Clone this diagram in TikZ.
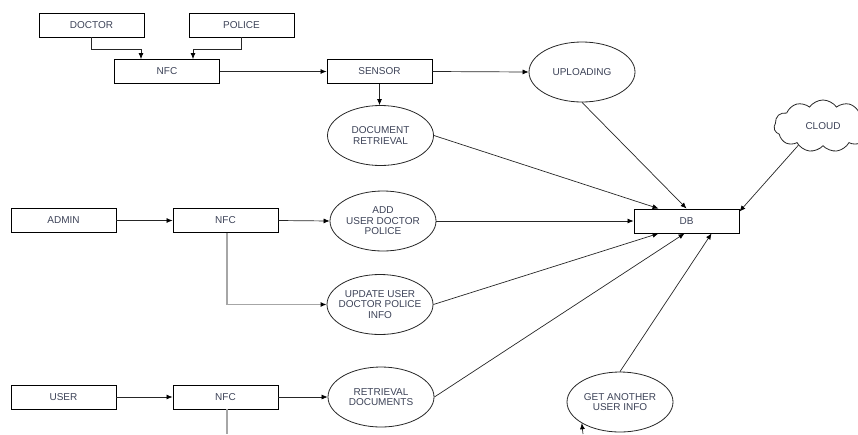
\documentclass[tikz,border=0pt]{standalone}
\usepackage{fontspec}
\setmainfont{Liberation Sans}
\usetikzlibrary{shapes.geometric,shapes.symbols,arrows.meta,calc}
\definecolor{txt}{HTML}{3C4257}
\tikzset{
  box/.style={draw=black,line width=0.9pt,minimum width=105pt,minimum height=24pt,inner sep=0pt,font=\fontsize{10}{10.5}\selectfont,text=txt},
  proc/.style={draw=black!85,line width=0.8pt,ellipse,minimum width=106pt,minimum height=60pt,inner xsep=-5pt,inner ysep=-2pt,align=center,font=\fontsize{10}{10.5}\selectfont,text=txt},
  arr/.style={draw=black!85,line width=0.7pt,-{Latex[length=6pt,width=5pt,black]}},
  garr/.style={draw=black!35,line width=1.1pt,-{Latex[length=6pt,width=5pt,black]}},
  gline/.style={draw=black!35,line width=1.1pt}
}
\begin{document}
\begin{tikzpicture}[x=1pt,y=-1pt]
\useasboundingbox (0,0) rectangle (858,434);
% top row
\node[box] (doctor) at (91.5,25) {DOCTOR};
\node[box] (police) at (241.5,25) {POLICE};
\node[box] (nfc1) at (167,71.5) {NFC};
\node[box] (sensor) at (379.5,71.5) {SENSOR};
\node[proc] (upl) at (582,72) {UPLOADING};
\node[proc] (docret) at (380.5,135.5) {DOCUMENT\\RETRIEVAL};
\node[cloud,cloud puffs=11,cloud puff arc=110,aspect=1.9,draw=black!85,line width=0.8pt,minimum width=98pt,minimum height=52pt,inner sep=0pt,font=\fontsize{10}{10.5}\selectfont,text=txt] (cloud) at (823,126) {CLOUD};
\node[box] (db) at (686.5,221) {DB};
% admin row
\node[box] (admin) at (63.5,220.5) {ADMIN};
\node[box] (nfc2) at (225.5,220.5) {NFC};
\node[proc] (add) at (383,221) {ADD\\USER DOCTOR\\POLICE};
\node[proc] (upd) at (380,304.5) {UPDATE USER\\DOCTOR POLICE\\INFO};
% user row
\node[box] (user) at (63.5,397) {USER};
\node[box] (nfc3) at (225.5,397) {NFC};
\node[proc] (ret) at (381,397) {RETRIEVAL\\DOCUMENTS};
\node[proc] (get) at (620,402) {GET ANOTHER\\USER INFO};
\coordinate (nfc3end) at (227,434);
\coordinate (getin) at (583,434);
% connectors
\draw[arr] (doctor.south) -- ++(0,-12pt) -| ([xshift=-26pt]nfc1.north);
\draw[arr] (police.south) -- ++(0,-12pt) -| ([xshift=26pt]nfc1.north);
\draw[arr] (nfc1.east) -- (sensor.west);
\draw[arr] (sensor.east) -- (upl.west);
\draw[arr] (sensor.south) -- (sensor.south |- docret.north);
\draw[arr] (upl.south) -- (db.north);
\draw[arr] (docret.east) -- ([xshift=25pt]db.north west);
\draw[arr] (cloud.218) -- ([yshift=-3pt]db.north east);
\draw[arr] (admin.east) -- (nfc2.west);
\draw[arr] (nfc2.east) -- (add.west);
\draw[arr] (add.east) -- (db.west);
\draw[garr] ([xshift=1.5pt]nfc2.south) |- (upd.west);
\draw[arr] (upd.east) -- ([xshift=25pt]db.south west);
\draw[arr] (user.east) -- (nfc3.west);
\draw[arr] (nfc3.east) -- (ret.west);
\draw[gline] ([xshift=1.5pt]nfc3.south) -- (nfc3end);
\draw[arr] (ret.east) -- ([xshift=51pt]db.south west);
\draw[arr] (get.north) -- ([xshift=78pt]db.south west);
\draw[arr] (getin) -- (get.209.6);
\end{tikzpicture}
\end{document}
